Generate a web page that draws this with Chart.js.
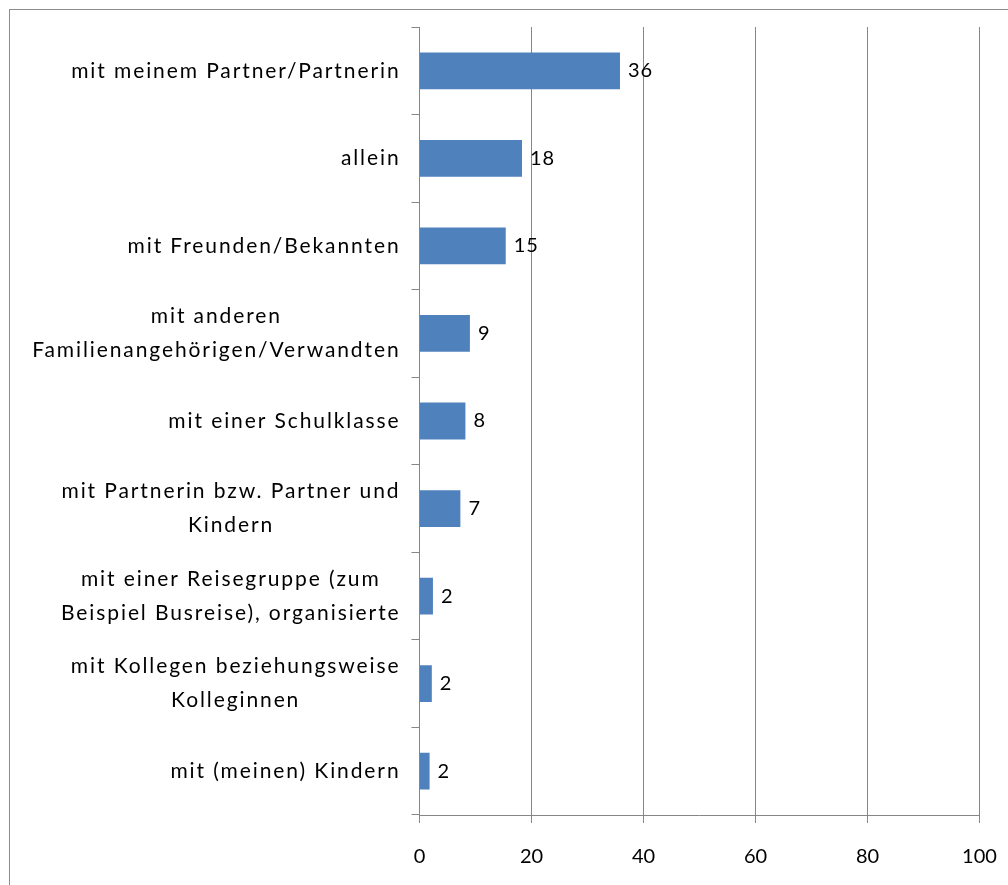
<!DOCTYPE html>
<html>
<head>
<meta charset="utf-8">
<script src="https://cdn.jsdelivr.net/npm/chart.js@4"></script>
<style>
    body { margin: 0; background: #fff; }
    #frame { position: absolute; left: 9px; top: 9px; width: 1100px; height: 1000px; border: 1px solid #8c8c8c; }
    #wrap { position: absolute; left: 0; top: 0; width: 1008px; height: 885px; }
</style>
</head>
<body>
<div id="frame"></div>
<div id="wrap"><canvas id="chart" width="1008" height="885"></canvas></div>
<script>
// Kategorien (mehrzeilige Beschriftungen als Arrays)
const categories = [
    'mit meinem Partner/Partnerin',
    'allein',
    'mit Freunden/Bekannten',
    ['mit anderen', 'Familienangehörigen/Verwandten'],
    'mit einer Schulklasse',
    ['mit Partnerin bzw. Partner und', 'Kindern'],
    ['mit einer Reisegruppe (zum', 'Beispiel Busreise), organisierte'],
    ['mit Kollegen beziehungsweise', 'Kolleginnen'],
    'mit (meinen) Kindern'
];
const shares = [35.8, 18.3, 15.4, 9.0, 8.2, 7.3, 2.4, 2.2, 1.8];
const xTicks = [0, 20, 40, 60, 80, 100];

const FONT = '20px Lato';
const GRID = '#868686';

// y labels: each block right-aligned, lines centered inside the block
const categoryLabels = {
    id: 'categoryLabels',
    afterDraw(chart) {
        const ctx = chart.ctx;
        const yScale = chart.scales.y;
        ctx.save();
        ctx.font = '21px Lato';
        ctx.letterSpacing = '1.9px';
        ctx.fillStyle = '#000';
        ctx.textAlign = 'center';
        ctx.textBaseline = 'middle';
        categories.forEach((label, i) => {
            const lines = Array.isArray(label) ? label : [label];
            const widest = Math.max(...lines.map(l => ctx.measureText(l).width));
            const cx = yScale.right - 19 - widest / 2;
            const cy = yScale.getPixelForTick(i);
            lines.forEach((line, j) => {
                ctx.fillText(line, cx, cy + (j - (lines.length - 1) / 2) * 34);
            });
        });
        ctx.restore();
    }
};

// value labels next to the bars
const valueLabels = {
    id: 'valueLabels',
    afterDatasetsDraw(chart) {
        const ctx = chart.ctx;
        const meta = chart.getDatasetMeta(0);
        ctx.save();
        ctx.font = FONT;
        ctx.letterSpacing = '1px';
        ctx.fillStyle = '#000';
        ctx.textAlign = 'left';
        ctx.textBaseline = 'middle';
        meta.data.forEach((bar, i) => {
            ctx.fillText(String(Math.round(shares[i])), bar.x + 8, bar.y);
        });
        ctx.restore();
    }
};

new Chart(document.getElementById('chart'), {
    type: 'bar',
    data: {
        labels: categories,
        datasets: [{
            data: shares,
            backgroundColor: '#4F81BD',
            categoryPercentage: 1,
            barPercentage: 0.42
        }]
    },
    options: {
        indexAxis: 'y',
        responsive: false,
        animation: false,
        layout: { padding: { top: 27, right: 28.5, left: 0, bottom: 0 } },
        plugins: {
            legend: { display: false },
            tooltip: { enabled: false }
        },
        scales: {
            x: {
                min: 0,
                max: 100,
                afterBuildTicks: scale => { scale.ticks = xTicks.map(v => ({ value: v })); },
                afterFit: scale => {
                    scale.height = 70;
                    scale.paddingLeft = 0;
                    scale.paddingRight = 0;
                },
                grid: { color: GRID, tickLength: 8 },
                border: { color: GRID },
                ticks: { color: '#000', font: { family: 'Lato', size: 20 }, padding: 22 }
            },
            y: {
                afterFit: scale => { scale.width = 419.5; },
                grid: { drawOnChartArea: false, color: GRID, tickLength: 8 },
                border: { color: GRID },
                ticks: { display: false }
            }
        }
    },
    plugins: [categoryLabels, valueLabels]
});
</script>
</body>
</html>
